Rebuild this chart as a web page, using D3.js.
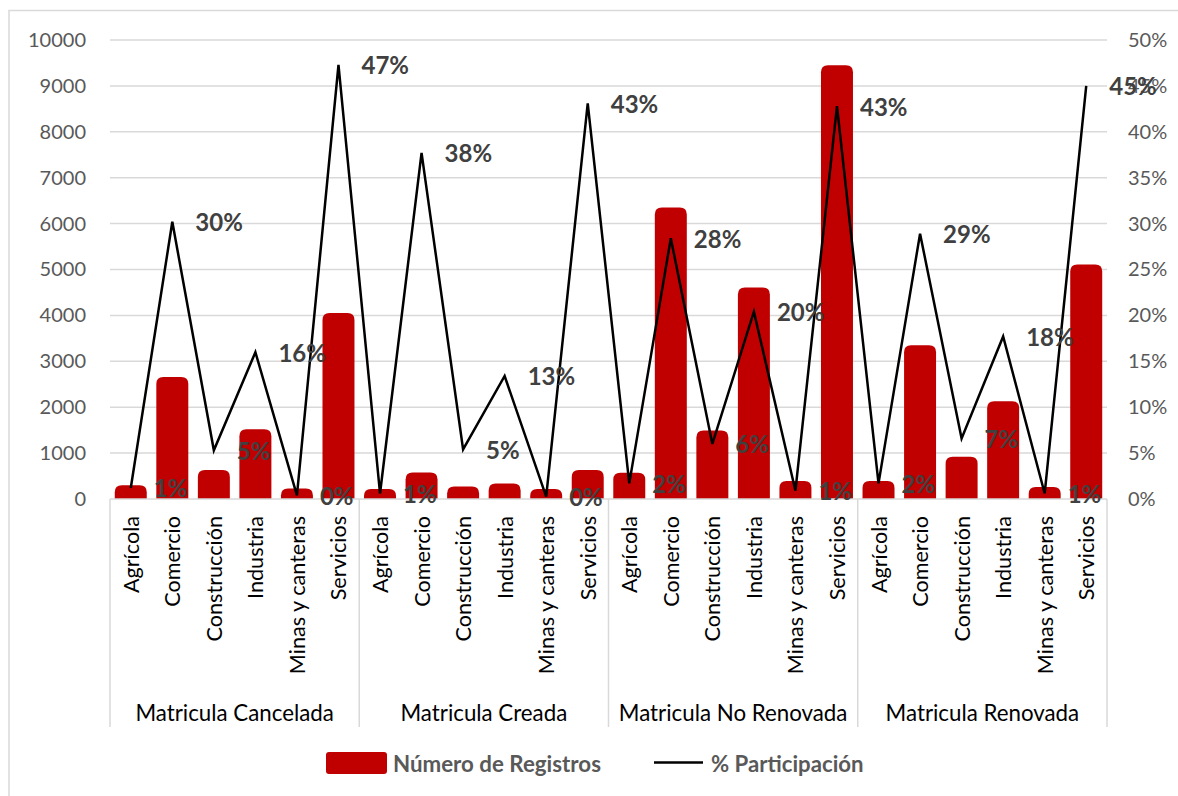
<!DOCTYPE html>
<html>
<head>
<meta charset="utf-8">
<script src="https://cdn.jsdelivr.net/npm/d3@7"></script>
<style>
  html, body { margin: 0; padding: 0; background: #fff; }
  svg { display: block; font-family: Lato, "Open Sans", sans-serif; }
</style>
</head>
<body>
<svg id="chart" width="1178" height="796"></svg>
<script>
const categories = ["Agrícola", "Comercio", "Construcción", "Industria", "Minas y canteras", "Servicios"];
const groups = ["Matricula Cancelada", "Matricula Creada", "Matricula No Renovada", "Matricula Renovada"];
const registros = [
  300, 2660, 630, 1520, 230, 4050,
  220, 580, 270, 340, 220, 630,
  570, 6350, 1490, 4610, 390, 9450,
  390, 3350, 920, 2130, 260, 5110
];
const participacion = [
  0.012, 0.302, 0.053, 0.160, 0.004, 0.473,
  0.006, 0.377, 0.054, 0.134, 0.0025, 0.431,
  0.017, 0.284, 0.060, 0.204, 0.009, 0.428,
  0.017, 0.289, 0.066, 0.177, 0.006, 0.450
];
const leftTicks = [0, 1000, 2000, 3000, 4000, 5000, 6000, 7000, 8000, 9000, 10000];
const rightTicks = [0, 0.05, 0.10, 0.15, 0.20, 0.25, 0.30, 0.35, 0.40, 0.45, 0.50];
const seriesNames = ["Número de Registros", "% Participación"];

(function () {
const rows = [];
groups.forEach((g, gi) => categories.forEach((c, ci) => {
  const i = gi * categories.length + ci;
  rows.push({ key: i, group: g, cat: c, reg: registros[i], pct: participacion[i] });
}));

const svg = d3.select("#chart");
const pL = 110, pR = 1107, pT = 40, pB = 499;

const x = d3.scaleBand().domain(rows.map(d => d.key)).range([pL, pR])
  .paddingInner(0.23).paddingOuter(0.115);
const y = d3.scaleLinear().domain([0, 10000]).range([pB, pT]);
const y2 = d3.scaleLinear().domain([0, 0.5]).range([pB, pT]);
const step = x.step();

// chart border (top/left visible)
svg.append("rect").attr("x", 9).attr("y", 10.5).attr("width", 1200).attr("height", 900)
  .attr("fill", "none").attr("stroke", "#d9d9d9").attr("stroke-width", 1.5);

// gridlines
svg.append("g").selectAll("line").data(leftTicks.slice(1)).join("line")
  .attr("x1", pL).attr("x2", pR)
  .attr("y1", d => y(d)).attr("y2", d => y(d))
  .attr("stroke", "#d9d9d9").attr("stroke-width", 1.5);

// left axis
const gl = svg.append("g").attr("transform", `translate(${pL},0)`)
  .call(d3.axisLeft(y).tickValues(leftTicks).tickSize(0).tickPadding(24).tickFormat(d3.format("d")));
gl.select(".domain").remove();
gl.selectAll("text").attr("font-family", "Lato").attr("font-size", 20).attr("fill", "#595959");

// right axis
const gr = svg.append("g").attr("transform", `translate(${pR},0)`)
  .call(d3.axisRight(y2).tickValues(rightTicks).tickSize(0).tickPadding(21).tickFormat(d3.format(".0%")));
gr.select(".domain").remove();
gr.selectAll("text").attr("font-family", "Lato").attr("font-size", 20).attr("fill", "#595959");

// bars with rounded tops
function topRounded(x0, y0, w, h, r) {
  r = Math.min(r, h, w / 2);
  return `M${x0},${y0 + h}V${y0 + r}Q${x0},${y0} ${x0 + r},${y0}H${x0 + w - r}Q${x0 + w},${y0} ${x0 + w},${y0 + r}V${y0 + h}Z`;
}
svg.append("g").selectAll("path").data(rows).join("path")
  .attr("d", d => topRounded(x(d.key), y(d.reg), x.bandwidth(), pB - y(d.reg), 7))
  .attr("fill", "#c00000");

// baseline
svg.append("line").attr("x1", pL).attr("x2", pR).attr("y1", pB).attr("y2", pB)
  .attr("stroke", "#d9d9d9").attr("stroke-width", 1.5);

// group separators
const seps = d3.range(groups.length + 1).map(k => pL + k * categories.length * step);
svg.append("g").selectAll("line").data(seps).join("line")
  .attr("x1", d => d).attr("x2", d => d).attr("y1", pB).attr("y2", 727)
  .attr("stroke", "#d9d9d9").attr("stroke-width", 1.5);

// category labels
svg.append("g").selectAll("text").data(rows).join("text")
  .attr("transform", d => `translate(${x(d.key) + x.bandwidth() / 2},516) rotate(-90)`)
  .attr("text-anchor", "end").attr("dominant-baseline", "central")
  .attr("font-family", "Lato").attr("font-size", 21.6).attr("fill", "#000")
  .text(d => d.cat);

// group labels
svg.append("g").selectAll("text").data(groups).join("text")
  .attr("x", (d, i) => (seps[i] + seps[i + 1]) / 2).attr("y", 712)
  .attr("text-anchor", "middle").attr("dominant-baseline", "central")
  .attr("font-family", "Lato").attr("font-size", 22.3).attr("fill", "#000")
  .text(d => d);

// line
const line = d3.line().x(d => x(d.key) + x.bandwidth() / 2).y(d => y2(d.pct));
svg.append("path").datum(rows).attr("d", line)
  .attr("fill", "none").attr("stroke", "#000").attr("stroke-width", 2.5).attr("stroke-linejoin", "miter");

// data labels (right of points)
svg.append("g").selectAll("text").data(rows).join("text")
  .attr("x", d => x(d.key) + x.bandwidth() / 2 + 23).attr("y", d => y2(d.pct))
  .attr("dominant-baseline", "central")
  .attr("font-family", "Lato").attr("font-weight", "bold").attr("font-size", 24).attr("fill", "#404040")
  .text(d => d3.format(".0%")(d.pct));

// legend
const lg = svg.append("g");
lg.append("rect").attr("x", 326).attr("y", 752).attr("width", 61).attr("height", 22).attr("rx", 3)
  .attr("fill", "#c00000");
lg.append("text").attr("x", 393).attr("y", 763).attr("dominant-baseline", "central")
  .attr("font-family", "Lato").attr("font-weight", "bold").attr("font-size", 22.3).attr("fill", "#595959")
  .text(seriesNames[0]);
lg.append("line").attr("x1", 654).attr("x2", 703).attr("y1", 762.5).attr("y2", 762.5)
  .attr("stroke", "#000").attr("stroke-width", 2.5);
lg.append("text").attr("x", 711).attr("y", 763).attr("dominant-baseline", "central")
  .attr("font-family", "Lato").attr("font-weight", "bold").attr("font-size", 22.2).attr("fill", "#595959")
  .text(seriesNames[1]);
})();
</script>
</body>
</html>
